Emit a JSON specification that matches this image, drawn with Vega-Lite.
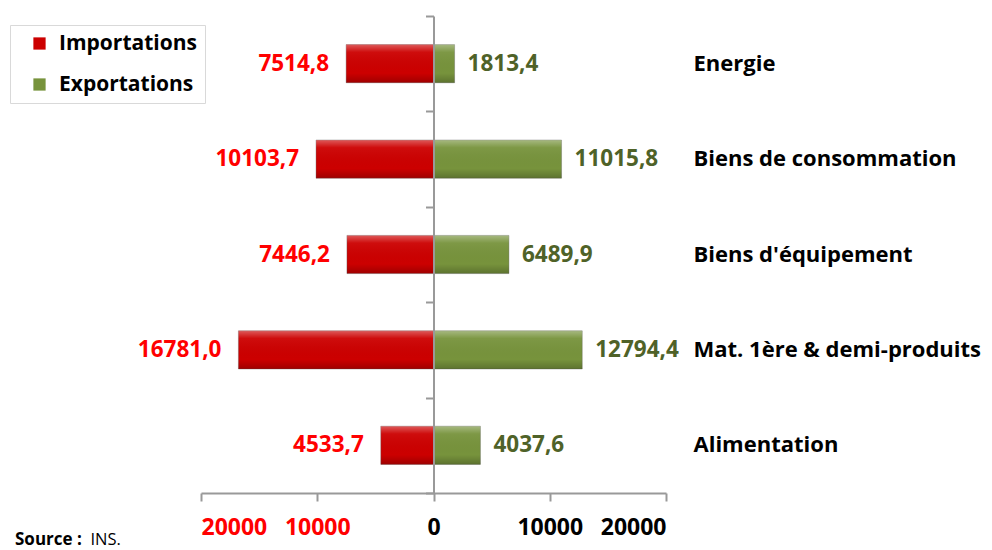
{
  "$schema": "https://vega.github.io/schema/vega-lite/v6.json",
  "autosize": "none",
  "width": 465,
  "height": 477,
  "padding": {"left": 201, "top": 16, "right": 326, "bottom": 57},
  "background": "white",
  "config": {
    "view": {"stroke": null},
    "font": "Open Sans"
  },
  "title": {
    "text": "Source :",
    "orient": "bottom",
    "anchor": "start",
    "frame": "group",
    "dx": -186,
    "offset": -16,
    "font": "Open Sans",
    "fontSize": 17,
    "fontWeight": "bold",
    "color": "black"
  },
  "data": {
    "values": [
      {"cat": "Energie", "flux": "Importations", "valeur": -7514.8, "etiquette": "7514,8"},
      {"cat": "Energie", "flux": "Exportations", "valeur": 1813.4, "etiquette": "1813,4"},
      {"cat": "Biens de consommation", "flux": "Importations", "valeur": -10103.7, "etiquette": "10103,7"},
      {"cat": "Biens de consommation", "flux": "Exportations", "valeur": 11015.8, "etiquette": "11015,8"},
      {"cat": "Biens d'équipement", "flux": "Importations", "valeur": -7446.2, "etiquette": "7446,2"},
      {"cat": "Biens d'équipement", "flux": "Exportations", "valeur": 6489.9, "etiquette": "6489,9"},
      {"cat": "Mat. 1ère & demi-produits", "flux": "Importations", "valeur": -16781.0, "etiquette": "16781,0"},
      {"cat": "Mat. 1ère & demi-produits", "flux": "Exportations", "valeur": 12794.4, "etiquette": "12794,4"},
      {"cat": "Alimentation", "flux": "Importations", "valeur": -4533.7, "etiquette": "4533,7"},
      {"cat": "Alimentation", "flux": "Exportations", "valeur": 4037.6, "etiquette": "4037,6"}
    ]
  },
  "encoding": {
    "y": {
      "field": "cat",
      "type": "nominal",
      "sort": ["Energie", "Biens de consommation", "Biens d'équipement", "Mat. 1ère & demi-produits", "Alimentation"],
      "scale": {"paddingInner": 0, "paddingOuter": 0}
    },
    "x": {
      "field": "valeur",
      "type": "quantitative",
      "scale": {"domain": [-20000, 20000], "nice": false},
      "axis": {
        "values": [-20000, -10000, 0, 10000, 20000],
        "labelExpr": "format(abs(datum.value), 'd')",
        "labelColor": {"condition": {"test": "datum.value < 0", "value": "#ff0000"}, "value": "black"},
        "labelFont": "Open Sans",
        "labelFontSize": 23,
        "labelFontWeight": "bold",
        "labelPadding": 15,
        "tickSize": 8,
        "tickColor": "#999999",
        "tickWidth": 2,
        "domainColor": "#999999",
        "domainWidth": 2,
        "grid": false,
        "title": "INS.",
        "titleFont": "Open Sans",
        "titleFontSize": 16.5,
        "titleFontWeight": "normal",
        "titleColor": "black",
        "titleAnchor": "start",
        "titleAlign": "left",
        "titleBaseline": "alphabetic",
        "titleX": -111,
        "titleY": 51
      }
    }
  },
  "layer": [
    {
      "mark": {"type": "bar", "height": {"band": 0.4}, "stroke": "#5a5a5a", "strokeOpacity": 0.35, "strokeWidth": 1},
      "encoding": {
        "y": {
          "field": "cat",
          "type": "nominal",
          "sort": ["Energie", "Biens de consommation", "Biens d'équipement", "Mat. 1ère & demi-produits", "Alimentation"],
          "axis": {
            "orient": "left",
            "offset": -232.5,
            "labels": false,
            "title": null,
            "tickBand": "extent",
            "tickSize": 8,
            "tickColor": "#999999",
            "tickWidth": 2,
            "domainColor": "#999999",
            "domainWidth": 2,
            "grid": false,
            "zindex": 1
          }
        },
        "color": {
          "field": "flux",
          "type": "nominal",
          "scale": {"domain": ["Importations", "Exportations"], "range": ["#cc0000", "#77933c"]},
          "legend": {
            "title": null,
            "orient": "none",
            "legendX": -191,
            "legendY": 9,
            "direction": "vertical",
            "symbolType": "square",
            "symbolSize": 150,
            "symbolOffset": 11,
            "symbolStrokeWidth": 0,
            "labelFont": "Open Sans",
            "labelFontSize": 21,
            "labelFontWeight": "bold",
            "labelColor": "black",
            "labelOffset": 9,
            "labelLimit": 300,
            "rowPadding": 19,
            "padding": 8,
            "strokeColor": "#d9d9d9",
            "fillColor": "white"
          }
        }
      }
    },
    {
      "mark": {
        "type": "bar",
        "height": {"band": 0.4},
        "fill": {
          "gradient": "linear",
          "x1": 0, "y1": 0, "x2": 0, "y2": 1,
          "stops": [
            {"offset": 0, "color": "rgba(255,255,255,0.35)"},
            {"offset": 0.2, "color": "rgba(255,255,255,0.05)"},
            {"offset": 0.75, "color": "rgba(0,0,0,0)"},
            {"offset": 1, "color": "rgba(0,0,0,0.22)"}
          ]
        }
      },
      "encoding": {
        "y": {
          "field": "cat",
          "type": "nominal",
          "sort": ["Energie", "Biens de consommation", "Biens d'équipement", "Mat. 1ère & demi-produits", "Alimentation"],
          "axis": null
        }
      }
    },
    {
      "transform": [{"filter": "datum.flux === 'Importations'"}],
      "mark": {"type": "text", "align": "right", "baseline": "middle", "dx": -17, "fontSize": 22.5, "fontWeight": "bold", "color": "#ff0000", "font": "Open Sans"},
      "encoding": {
        "y": {
          "field": "cat",
          "type": "nominal",
          "sort": ["Energie", "Biens de consommation", "Biens d'équipement", "Mat. 1ère & demi-produits", "Alimentation"],
          "axis": {
            "orient": "right",
            "title": null,
            "ticks": false,
            "domain": false,
            "labelPadding": 27,
            "labelFont": "Open Sans",
            "labelFontSize": 22,
            "labelFontWeight": "bold",
            "labelColor": "black",
            "labelLimit": 400,
            "grid": false
          }
        },
        "text": {"field": "etiquette", "type": "nominal"}
      }
    },
    {
      "transform": [{"filter": "datum.flux === 'Exportations'"}],
      "mark": {"type": "text", "align": "left", "baseline": "middle", "dx": 13, "fontSize": 22.5, "fontWeight": "bold", "color": "#4f6228", "font": "Open Sans"},
      "encoding": {
        "y": {
          "field": "cat",
          "type": "nominal",
          "sort": ["Energie", "Biens de consommation", "Biens d'équipement", "Mat. 1ère & demi-produits", "Alimentation"],
          "axis": null
        },
        "text": {"field": "etiquette", "type": "nominal"}
      }
    }
  ],
  "resolve": {"axis": {"y": "independent"}}
}
